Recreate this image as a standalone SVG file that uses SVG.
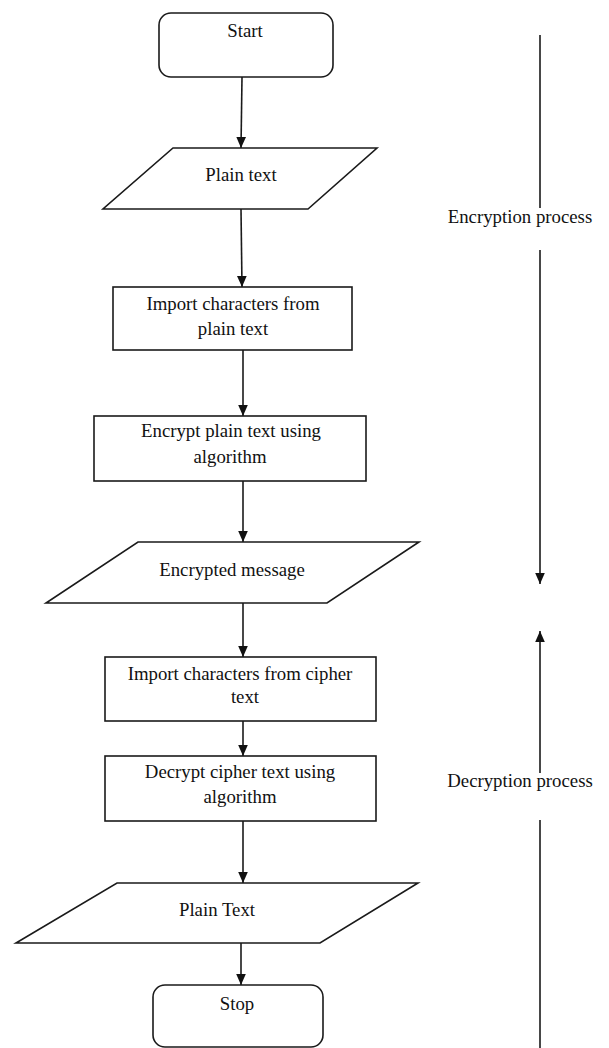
<svg xmlns="http://www.w3.org/2000/svg" width="609" height="1048" viewBox="0 0 609 1048">
<style>
.shape{fill:#fff;stroke:#1a1a1a;stroke-width:1.6}
.conn{stroke:#1a1a1a;stroke-width:1.6;fill:none}
.t{font-family:"Liberation Serif","Times New Roman",serif;font-size:18.8px;fill:#111;text-anchor:middle}
</style>
<defs>
<marker id="ah" markerUnits="userSpaceOnUse" markerWidth="11" markerHeight="11" viewBox="0 0 10 10" refX="10" refY="5" orient="auto">
<path d="M0,0.6 L10,5 L0,9.4 Z" fill="#111"/>
</marker>
</defs>
<rect width="609" height="1048" fill="#fff"/>
<g id="connectors">
<line class="conn" x1="242" y1="77" x2="241" y2="148" marker-end="url(#ah)"/>
<line class="conn" x1="241" y1="209" x2="242" y2="287" marker-end="url(#ah)"/>
<line class="conn" x1="243" y1="350" x2="243" y2="416" marker-end="url(#ah)"/>
<line class="conn" x1="243" y1="481" x2="243" y2="542" marker-end="url(#ah)"/>
<line class="conn" x1="243" y1="603" x2="243" y2="657" marker-end="url(#ah)"/>
<line class="conn" x1="243" y1="721" x2="243" y2="756" marker-end="url(#ah)"/>
<line class="conn" x1="243" y1="821" x2="243" y2="883" marker-end="url(#ah)"/>
<line class="conn" x1="241" y1="943" x2="241" y2="985" marker-end="url(#ah)"/>
<line class="conn" x1="540" y1="35" x2="540" y2="208"/>
<line class="conn" x1="540" y1="250" x2="540" y2="584" marker-end="url(#ah)"/>
<line class="conn" x1="540" y1="773" x2="540" y2="631" marker-end="url(#ah)"/>
<line class="conn" x1="540" y1="820" x2="540" y2="1048"/>
</g>
<g id="start">
<rect class="shape" x="159" y="13" width="174" height="64" rx="12"/>
<text class="t" x="245" y="37">Start</text>
</g>
<g id="plain-text-in">
<polygon class="shape" points="173,148 377,148 308,209 103,209"/>
<text class="t" x="241" y="181">Plain text</text>
</g>
<g id="import-plain">
<rect class="shape" x="113" y="287" width="239" height="63"/>
<text class="t" x="233" y="310">Import characters from</text>
<text class="t" x="233" y="335">plain text</text>
</g>
<g id="encrypt">
<rect class="shape" x="94" y="416" width="272" height="65"/>
<text class="t" x="231" y="437">Encrypt plain text using</text>
<text class="t" x="230" y="463">algorithm</text>
</g>
<g id="encrypted-message">
<polygon class="shape" points="138,542 419,542 327,603 46,603"/>
<text class="t" x="232" y="576">Encrypted message</text>
</g>
<g id="import-cipher">
<rect class="shape" x="105" y="657" width="271" height="64"/>
<text class="t" x="240" y="680">Import characters from cipher</text>
<text class="t" x="245" y="703">text</text>
</g>
<g id="decrypt">
<rect class="shape" x="105" y="756" width="271" height="65"/>
<text class="t" x="240" y="778">Decrypt cipher text using</text>
<text class="t" x="240" y="803">algorithm</text>
</g>
<g id="plain-text-out">
<polygon class="shape" points="117,883 418,883 320,943 16,943"/>
<text class="t" x="217" y="916">Plain Text</text>
</g>
<g id="stop">
<rect class="shape" x="153" y="985" width="170" height="62" rx="12"/>
<text class="t" x="237" y="1010">Stop</text>
</g>
<g id="labels">
<text class="t" x="520" y="223">Encryption process</text>
<text class="t" x="520" y="787">Decryption process</text>
</g>
</svg>
